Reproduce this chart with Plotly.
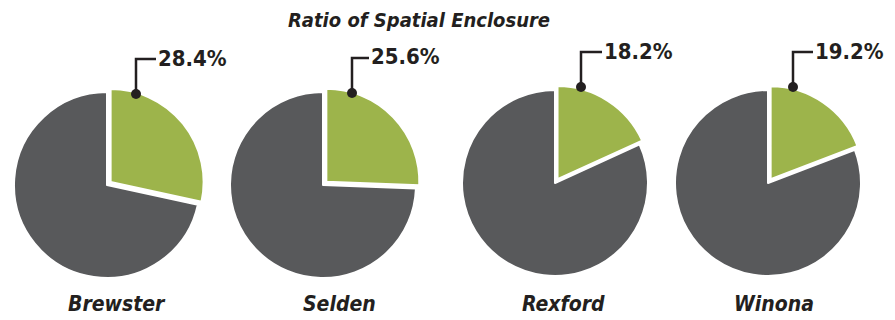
import plotly.graph_objects as go

# Share of spatial enclosure per site (percent)
sites = ["Brewster", "Selden", "Rexford", "Winona"]
enclosure_pct = [28.4, 25.6, 18.2, 19.2]

W, H = 895, 320
GREEN = "#9db44b"
GRAY = "#58595b"
INK = "#231f20"
FONT = "DejaVu Sans Condensed, Liberation Sans Narrow, Arial Narrow, sans-serif"

# layout geometry (pixels)
pie_centers = [(107, 185), (323, 185), (555, 183), (768, 183)]
pie_radius = 93
pull = 0.05
leaders = [  # dot (x, y), elbow y, end x of horizontal run
    (136, 94, 59, 156),
    (352, 93, 58, 369),
    (581, 87, 52, 602),
    (793, 87, 52, 813),
]
name_x = [117, 339, 563, 774]


def px(x):
    return x / W


def py(y):
    return (H - y) / H


fig = go.Figure()
shapes = []
annotations = []

for i, (site, pct) in enumerate(zip(sites, enclosure_pct)):
    cx, cy = pie_centers[i]
    half = pie_radius * (1 + pull)
    fig.add_trace(go.Pie(
        labels=["Enclosed", "Open"],
        values=[pct, 100 - pct],
        sort=False,
        direction="clockwise",
        rotation=0,
        pull=[pull, 0],
        marker=dict(colors=[GREEN, GRAY], line=dict(color="white", width=2)),
        textinfo="none",
        hoverinfo="label+percent",
        showlegend=False,
        domain=dict(x=[px(cx - half), px(cx + half)],
                    y=[py(cy + half), py(cy - half)]),
    ))

    dx, dy, ey, ex = leaders[i]
    shapes.append(dict(
        type="path", xref="paper", yref="paper",
        path=f"M {px(dx)},{py(dy)} L {px(dx)},{py(ey)} L {px(ex)},{py(ey)}",
        line=dict(color=INK, width=2.5),
    ))
    rdot = 5
    shapes.append(dict(
        type="circle", xref="paper", yref="paper",
        x0=px(dx - rdot), x1=px(dx + rdot), y0=py(dy + rdot), y1=py(dy - rdot),
        fillcolor=INK, line=dict(color=INK, width=0),
    ))
    annotations.append(dict(
        x=px(ex), y=py(ey - 1), xref="paper", yref="paper",
        xanchor="left", yanchor="middle", showarrow=False,
        text=f"<b>{pct:.1f}%</b>",
        font=dict(family=FONT, size=22, color=INK),
    ))
    annotations.append(dict(
        x=px(name_x[i]), y=py(304), xref="paper", yref="paper",
        xanchor="center", yanchor="middle", showarrow=False,
        text=f"<b><i>{site}</i></b>",
        font=dict(family=FONT, size=21, color=INK),
    ))

annotations.append(dict(
    x=px(419), y=py(20), xref="paper", yref="paper",
    xanchor="center", yanchor="middle", showarrow=False,
    text="<b><i>Ratio of Spatial Enclosure</i></b>",
    font=dict(family=FONT, size=20, color=INK),
))

fig.update_layout(
    width=W, height=H,
    margin=dict(l=0, r=0, t=0, b=0),
    paper_bgcolor="white",
    plot_bgcolor="white",
    shapes=shapes,
    annotations=annotations,
)

fig.write_html("out.html")
